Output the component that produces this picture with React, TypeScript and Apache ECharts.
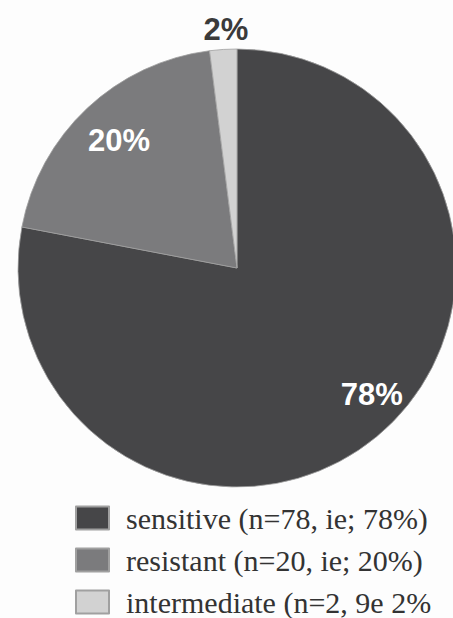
import React, { useEffect, useRef } from "react";
import * as echarts from "echarts";

const categories = ["sensitive", "resistant", "intermediate"];
const values = [78, 20, 2];
const sliceLabels = ["78%", "20%", "2%"];
const legendLabels = [
  "sensitive (n=78, ie; 78%)",
  "resistant (n=20, ie; 20%)",
  "intermediate (n=2, 9e 2%",
];
const colors = ["#464648", "#7b7b7d", "#d2d2d2"];

export default function App() {
  const ref = useRef<HTMLDivElement>(null);
  useEffect(() => {
    if (!ref.current) return;
    const chart = echarts.init(ref.current, null, { renderer: "svg" });
    const labelStyles = [
      { color: "#ffffff", offset: [63, 40] },
      { color: "#ffffff", offset: [-41, -45] },
      { color: "#3a3a3a", offset: [-4, -126] },
    ];
    chart.setOption({
      animation: false,
      backgroundColor: "#fdfdfd",
      color: colors,
      legend: {
        orient: "vertical",
        left: 70,
        top: 498,
        itemWidth: 33,
        itemHeight: 23,
        itemGap: 12,
        icon: "rect",
        data: categories,
        formatter: (name: string) => legendLabels[categories.indexOf(name)],
        textStyle: {
          fontFamily: "Liberation Serif",
          fontSize: 30,
          color: "#333333",
          padding: [0, 0, 0, 12],
        },
      },
      series: [
        {
          type: "pie",
          center: [237, 268],
          radius: 219,
          startAngle: 90,
          clockwise: true,
          silent: true,
          itemStyle: { borderColor: "#a0a0a0", borderWidth: 0.8 },
          labelLine: { show: false },
          data: categories.map((c, i) => ({
            name: c,
            value: values[i],
            label: {
              show: true,
              position: "inside",
              formatter: sliceLabels[i],
              fontFamily: "Liberation Sans",
              fontWeight: "bold",
              fontSize: 31,
              color: labelStyles[i].color,
              offset: labelStyles[i].offset,
            },
          })),
        },
      ],
    });
    return () => chart.dispose();
  }, []);
  return (
    <div
      ref={ref}
      style={{ position: "fixed", left: 0, top: 0, width: 453, height: 720 }}
    />
  );
}
